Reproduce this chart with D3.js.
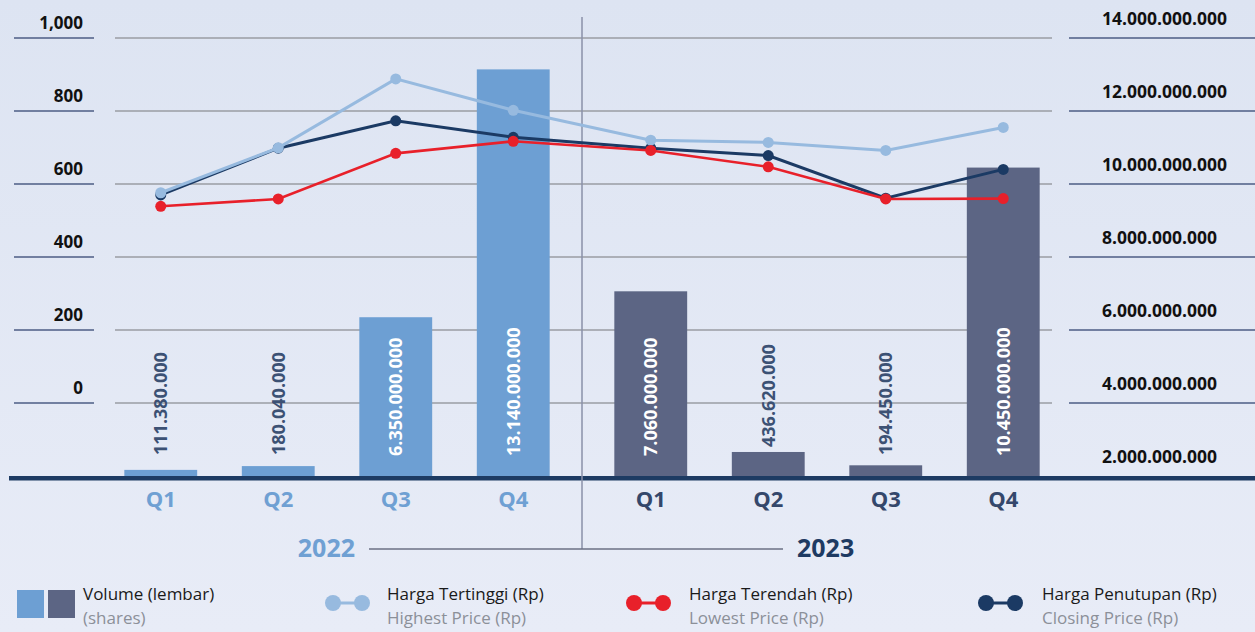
<!DOCTYPE html>
<html>
<head>
<meta charset="utf-8">
<script src="https://cdn.jsdelivr.net/npm/d3@7"></script>
<style>
  html, body { margin: 0; padding: 0; }
  body { width: 1255px; height: 632px; overflow: hidden; }
  svg { display: block; font-family: "Open Sans", "Noto Sans", sans-serif; }
</style>
</head>
<body>
<svg id="chart" width="1255" height="632"></svg>
<script>
// ---------- DATA ----------
const quarters = ["Q1", "Q2", "Q3", "Q4"];
const years = ["2022", "2023"];
const volume2022 = [111380000, 180040000, 6350000000, 13140000000];
const volume2023 = [7060000000, 436620000, 194450000, 10450000000];
const highestPrice = [576, 699, 888, 802, 720, 714, 692, 755];
const lowestPrice  = [539, 559, 684, 717, 692, 647, 559, 560];
const closingPrice = [570, 698, 773, 728, 698, 678, 561, 640];
const leftTicks  = [0, 200, 400, 600, 800, 1000];
const rightTicks = [2000000000, 4000000000, 6000000000, 8000000000, 10000000000, 12000000000, 14000000000];
const legendItems = [
  { key: "volume",  id: "Volume (lembar)",      en: "(shares)" },
  { key: "highest", id: "Harga Tertinggi (Rp)", en: "Highest Price (Rp)" },
  { key: "lowest",  id: "Harga Terendah (Rp)",  en: "Lowest Price (Rp)" },
  { key: "closing", id: "Harga Penutupan (Rp)", en: "Closing Price (Rp)" }
];

// ---------- STYLE ----------
const C = {
  bar2022: "#6d9fd3", bar2023: "#5c6584",
  highest: "#97badf", lowest: "#e8202a", closing: "#1b3a64",
  grid: "#9a9ca3", axisShort: "#4d5d84", base: "#1d3b63",
  q2022: "#6fa0d3", q2023: "#34476b", y2023: "#1e3a62",
  barLabelDark: "#3c5174"
};

const svg = d3.select("#chart");
const defs = svg.append("defs");
const grad = defs.append("linearGradient").attr("id", "bg").attr("x1", 0).attr("y1", 0).attr("x2", 0).attr("y2", 1);
grad.append("stop").attr("offset", "0%").attr("stop-color", "#dde4f2");
grad.append("stop").attr("offset", "100%").attr("stop-color", "#e8ecf7");
svg.append("rect").attr("width", 1255).attr("height", 632).attr("fill", "url(#bg)");

// ---------- SCALES ----------
const yPrice = d3.scaleLinear().domain([0, 1000]).range([403, 38]);
const yVol = d3.scaleLinear().domain([2000000000, 14000000000]).range([476, 38]);
const yVolStub = d3.scaleLinear().domain([0, 2000000000]).range([0, 110]); // stub height for values below the axis floor
const x2022 = d3.scaleBand().domain(quarters).range([102, 572]).paddingInner(0.38).paddingOuter(0.19);
const x2023 = d3.scaleBand().domain(quarters).range([592, 1062]).paddingInner(0.38).paddingOuter(0.19);
const xScales = [x2022, x2023];
const volumes = [volume2022, volume2023];

const fmtLeft = d3.format(",");
const idLocale = d3.formatLocale({ decimal: ",", thousands: ".", grouping: [3], currency: ["Rp", ""] });
const fmtRight = idLocale.format(",");

// ---------- GRID ----------
const g = svg.append("g");
g.selectAll("line.grid").data(leftTicks).join("line")
  .attr("x1", 115).attr("x2", 1052)
  .attr("y1", d => yPrice(d)).attr("y2", d => yPrice(d))
  .attr("stroke", C.grid).attr("stroke-width", 1.3);

// left short axis lines + labels
g.selectAll("line.ls").data(leftTicks).join("line")
  .attr("x1", 14).attr("x2", 94)
  .attr("y1", d => yPrice(d)).attr("y2", d => yPrice(d))
  .attr("stroke", C.axisShort).attr("stroke-width", 1.3);
g.selectAll("text.lt").data(leftTicks).join("text")
  .attr("x", 83).attr("y", d => yPrice(d) - 9)
  .attr("text-anchor", "end").attr("font-size", 17).attr("font-weight", 700).attr("fill", "#111")
  .text(d => fmtLeft(d));

// right short axis lines + labels
g.selectAll("line.rs").data(rightTicks.filter(d => d > 2000000000)).join("line")
  .attr("x1", 1069).attr("x2", 1255)
  .attr("y1", d => yVol(d)).attr("y2", d => yVol(d))
  .attr("stroke", C.axisShort).attr("stroke-width", 1.3);
g.selectAll("text.rt").data(rightTicks).join("text")
  .attr("x", 1102).attr("y", d => yVol(d) - 13.5)
  .attr("text-anchor", "start").attr("font-size", 17.5).attr("font-weight", 700).attr("fill", "#111")
  .text(d => fmtRight(d));

// ---------- BARS ----------
const barTop = v => v < yVol.domain()[0] ? yVol.range()[0] - yVolStub(v) : yVol(v);
years.forEach((yr, yi) => {
  const xs = xScales[yi];
  const data = quarters.map((q, i) => ({ q, v: volumes[yi][i] }));
  const bg = svg.append("g");
  bg.selectAll("rect").data(data).join("rect")
    .attr("x", d => xs(d.q)).attr("width", xs.bandwidth())
    .attr("y", d => barTop(d.v)).attr("height", d => yVol.range()[0] - barTop(d.v))
    .attr("fill", yi === 0 ? C.bar2022 : C.bar2023);
});

// ---------- BASELINE / DIVIDERS ----------
svg.append("line").attr("x1", 9).attr("x2", 1255).attr("y1", 478.3).attr("y2", 478.3)
  .attr("stroke", C.base).attr("stroke-width", 4.5);
svg.append("line").attr("x1", 582).attr("x2", 582).attr("y1", 17).attr("y2", 549)
  .attr("stroke", "#8a91a8").attr("stroke-width", 1.5);
svg.append("line").attr("x1", 369).attr("x2", 783).attr("y1", 549).attr("y2", 549)
  .attr("stroke", "#6b7184").attr("stroke-width", 1.5);

// ---------- BAR LABELS ----------
years.forEach((yr, yi) => {
  const xs = xScales[yi];
  const data = quarters.map((q, i) => ({ q, v: volumes[yi][i] }));
  svg.append("g").selectAll("text").data(data).join("text")
    .attr("transform", d => {
      const cx = xs(d.q) + xs.bandwidth() / 2;
      const inside = yVol.range()[0] - barTop(d.v) > 140;
      const yA = inside ? 456 : Math.min(455, barTop(d.v) - 5);
      return `translate(${cx + 6.5},${yA}) rotate(-90)`;
    })
    .attr("text-anchor", "start").attr("font-size", 18).attr("font-weight", 700)
    .attr("fill", d => (yVol.range()[0] - barTop(d.v) > 140) ? "#ffffff" : C.barLabelDark)
    .text(d => fmtRight(d.v));
});

// ---------- X LABELS ----------
years.forEach((yr, yi) => {
  const xs = xScales[yi];
  svg.append("g").selectAll("text").data(quarters).join("text")
    .attr("x", d => xs(d) + xs.bandwidth() / 2).attr("y", 507)
    .attr("text-anchor", "middle").attr("font-size", 22).attr("font-weight", 700)
    .attr("fill", yi === 0 ? C.q2022 : C.q2023)
    .text(d => d);
});
svg.append("text").attr("x", 355).attr("y", 557).attr("text-anchor", "end")
  .attr("font-size", 25).attr("font-weight", 700).attr("fill", C.q2022).text(years[0]);
svg.append("text").attr("x", 797).attr("y", 557).attr("text-anchor", "start")
  .attr("font-size", 25).attr("font-weight", 700).attr("fill", C.y2023).text(years[1]);

// ---------- LINES ----------
const centers = years.flatMap((yr, yi) => quarters.map(q => xScales[yi](q) + xScales[yi].bandwidth() / 2));
const lineGen = d3.line().x((d, i) => centers[i]).y(d => yPrice(d));
const series = [
  { vals: closingPrice, color: C.closing, w: 3 },
  { vals: highestPrice, color: C.highest, w: 3 },
  { vals: lowestPrice,  color: C.lowest,  w: 2.6 }
];
series.forEach(s => {
  const lg = svg.append("g");
  lg.append("path").datum(s.vals).attr("d", lineGen)
    .attr("fill", "none").attr("stroke", s.color).attr("stroke-width", s.w);
  lg.selectAll("circle").data(s.vals).join("circle")
    .attr("cx", (d, i) => centers[i]).attr("cy", d => yPrice(d)).attr("r", 5.5)
    .attr("fill", s.color);
});

// ---------- LEGEND ----------
const legX = [17, 322, 623, 975];
const textX = [83, 387, 689, 1042];
const lg = svg.append("g");
legendItems.forEach((it, i) => {
  if (it.key === "volume") {
    lg.append("rect").attr("x", 17).attr("y", 590).attr("width", 27).attr("height", 28).attr("fill", C.bar2022);
    lg.append("rect").attr("x", 48).attr("y", 590).attr("width", 27).attr("height", 28).attr("fill", C.bar2023);
  } else {
    const col = C[it.key];
    const x0 = legX[i] + 11, x1 = legX[i] + 40;
    lg.append("line").attr("x1", x0).attr("x2", x1).attr("y1", 603).attr("y2", 603)
      .attr("stroke", col).attr("stroke-width", 3);
    lg.append("circle").attr("cx", x0).attr("cy", 603).attr("r", 8).attr("fill", col);
    lg.append("circle").attr("cx", x1).attr("cy", 603).attr("r", 8).attr("fill", col);
  }
  lg.append("text").attr("x", textX[i]).attr("y", 600).attr("font-size", 17).attr("fill", "#1a1a1a").text(it.id);
  lg.append("text").attr("x", textX[i]).attr("y", 624).attr("font-size", 17).attr("fill", "#8c9099").text(it.en);
});
</script>
</body>
</html>
